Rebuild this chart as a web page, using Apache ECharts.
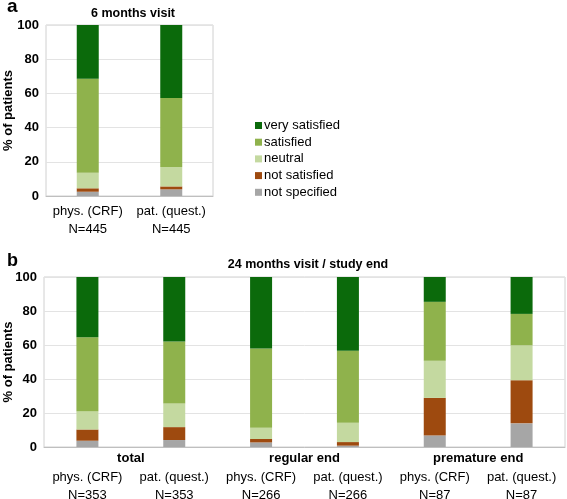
<!DOCTYPE html>
<html><head><meta charset="utf-8">
<script src="https://cdn.jsdelivr.net/npm/echarts@6/dist/echarts.min.js"></script>
<style>html,body{margin:0;padding:0;background:#fff}#c{width:567px;height:499px}</style>
</head><body><div id="c"></div>
<script>
// Panel a: 6 months visit
const catsA = ['phys. (CRF)\nN=445', 'pat. (quest.)\nN=445'];
const aNotSpecified = [2.5, 3.9];
const aNotSatisfied = [2.0, 1.7];
const aNeutral = [9.1, 11.4];
const aSatisfied = [55.0, 40.3];
const aVerySatisfied = [31.4, 42.7];

// Panel b: 24 months visit / study end
const catsB = ['phys. (CRF)\nN=353', 'pat. (quest.)\nN=353', 'phys. (CRF)\nN=266', 'pat. (quest.)\nN=266', 'phys. (CRF)\nN=87', 'pat. (quest.)\nN=87'];
const groupsB = ['total', 'regular end', 'premature end'];
const bNotSpecified = [3.7, 4.1, 2.7, 0.8, 6.8, 13.9];
const bNotSatisfied = [6.6, 7.6, 2.0, 2.1, 22.1, 25.4];
const bNeutral = [10.8, 13.9, 6.6, 11.4, 21.9, 20.5];
const bSatisfied = [43.5, 36.5, 46.7, 42.3, 34.6, 18.5];
const bVerySatisfied = [35.4, 37.9, 42.0, 43.4, 14.6, 21.7];

const names = ['not specified', 'not satisfied', 'neutral', 'satisfied', 'very satisfied'];
const colors = ['#a6a6a6', '#9e4a0f', '#c4d9a0', '#8fb24c', '#0b6a0b'];
const dataA = [aNotSpecified, aNotSatisfied, aNeutral, aSatisfied, aVerySatisfied];
const dataB = [bNotSpecified, bNotSatisfied, bNeutral, bSatisfied, bVerySatisfied];

const font = 'Liberation Sans, Arial, sans-serif';
const series = [];
names.forEach((n, i) => {
  series.push({name: n, type: 'bar', stack: 'a', xAxisIndex: 0, yAxisIndex: 0, barWidth: 22,
    itemStyle: {color: colors[i]}, data: dataA[i]});
});
names.forEach((n, i) => {
  series.push({name: n, type: 'bar', stack: 'b', xAxisIndex: 1, yAxisIndex: 1, barWidth: 22,
    itemStyle: {color: colors[i]}, data: dataB[i]});
});

const yAxisCommon = {
  type: 'value', min: 0, max: 100, interval: 20,
  name: '% of patients', nameLocation: 'middle', nameMoveOverlap: false,
  nameTextStyle: {fontFamily: font, fontSize: 13, fontWeight: 'bold', color: '#000'},
  axisLabel: {fontFamily: font, fontSize: 13, fontWeight: 'bold', color: '#000', margin: 7},
  axisLine: {show: false}, axisTick: {show: false},
  splitLine: {lineStyle: {color: '#e3e3e3'}}
};
const catLabel = {fontFamily: font, fontSize: 13, color: '#000', lineHeight: 18, interval: 0};

const option = {
  animation: false,
  textStyle: {fontFamily: font},
  title: [
    {text: 'a', left: 2, top: -8, textStyle: {fontFamily: font, fontSize: 19, fontWeight: 'bold', color: '#000'}},
    {text: '6 months visit', left: 128, textAlign: 'center', top: 2, textStyle: {fontFamily: font, fontSize: 12.5, fontWeight: 'bold', color: '#000'}},
    {text: 'b', left: 2, top: 247, textStyle: {fontFamily: font, fontSize: 18, fontWeight: 'bold', color: '#000'}},
    {text: '24 months visit / study end', left: 303, textAlign: 'center', top: 253, textStyle: {fontFamily: font, fontSize: 12.5, fontWeight: 'bold', color: '#000'}}
  ],
  legend: {
    orient: 'vertical', left: 250, top: 114, icon: 'rect', itemWidth: 7, itemHeight: 7, itemGap: 3.7,
    data: ['very satisfied', 'satisfied', 'neutral', 'not satisfied', 'not specified'],
    textStyle: {fontFamily: font, fontSize: 13, color: '#000', padding: [0, 0, 0, -3]}
  },
  grid: [
    {left: 46, top: 25, width: 167, height: 171, show: true, borderColor: '#d0d0d0', borderWidth: 1, outerBoundsMode: 'none', containLabel: false},
    {left: 44, top: 277, width: 521, height: 170, show: true, borderColor: '#d0d0d0', borderWidth: 1, outerBoundsMode: 'none', containLabel: false}
  ],
  xAxis: [
    {type: 'category', gridIndex: 0, data: catsA, axisTick: {show: false},
      axisLine: {lineStyle: {color: '#bfbfbf'}}, axisLabel: Object.assign({}, catLabel, {margin: 6})},
    {type: 'category', gridIndex: 1, data: catsB, axisTick: {show: false},
      axisLine: {lineStyle: {color: '#bfbfbf'}}, axisLabel: Object.assign({}, catLabel, {margin: 21})},
    {type: 'category', gridIndex: 1, position: 'bottom', data: groupsB, axisTick: {show: false},
      axisLine: {show: false}, splitLine: {show: false},
      axisLabel: {fontFamily: font, fontSize: 13, fontWeight: 'bold', color: '#000', margin: 5, interval: 0}}
  ],
  yAxis: [
    Object.assign({gridIndex: 0, nameGap: 31}, yAxisCommon),
    Object.assign({gridIndex: 1, nameGap: 29}, yAxisCommon)
  ],
  series: series
};
const chart = echarts.init(document.getElementById('c'), null, {renderer: 'canvas'});
chart.setOption(option);
</script></body></html>
